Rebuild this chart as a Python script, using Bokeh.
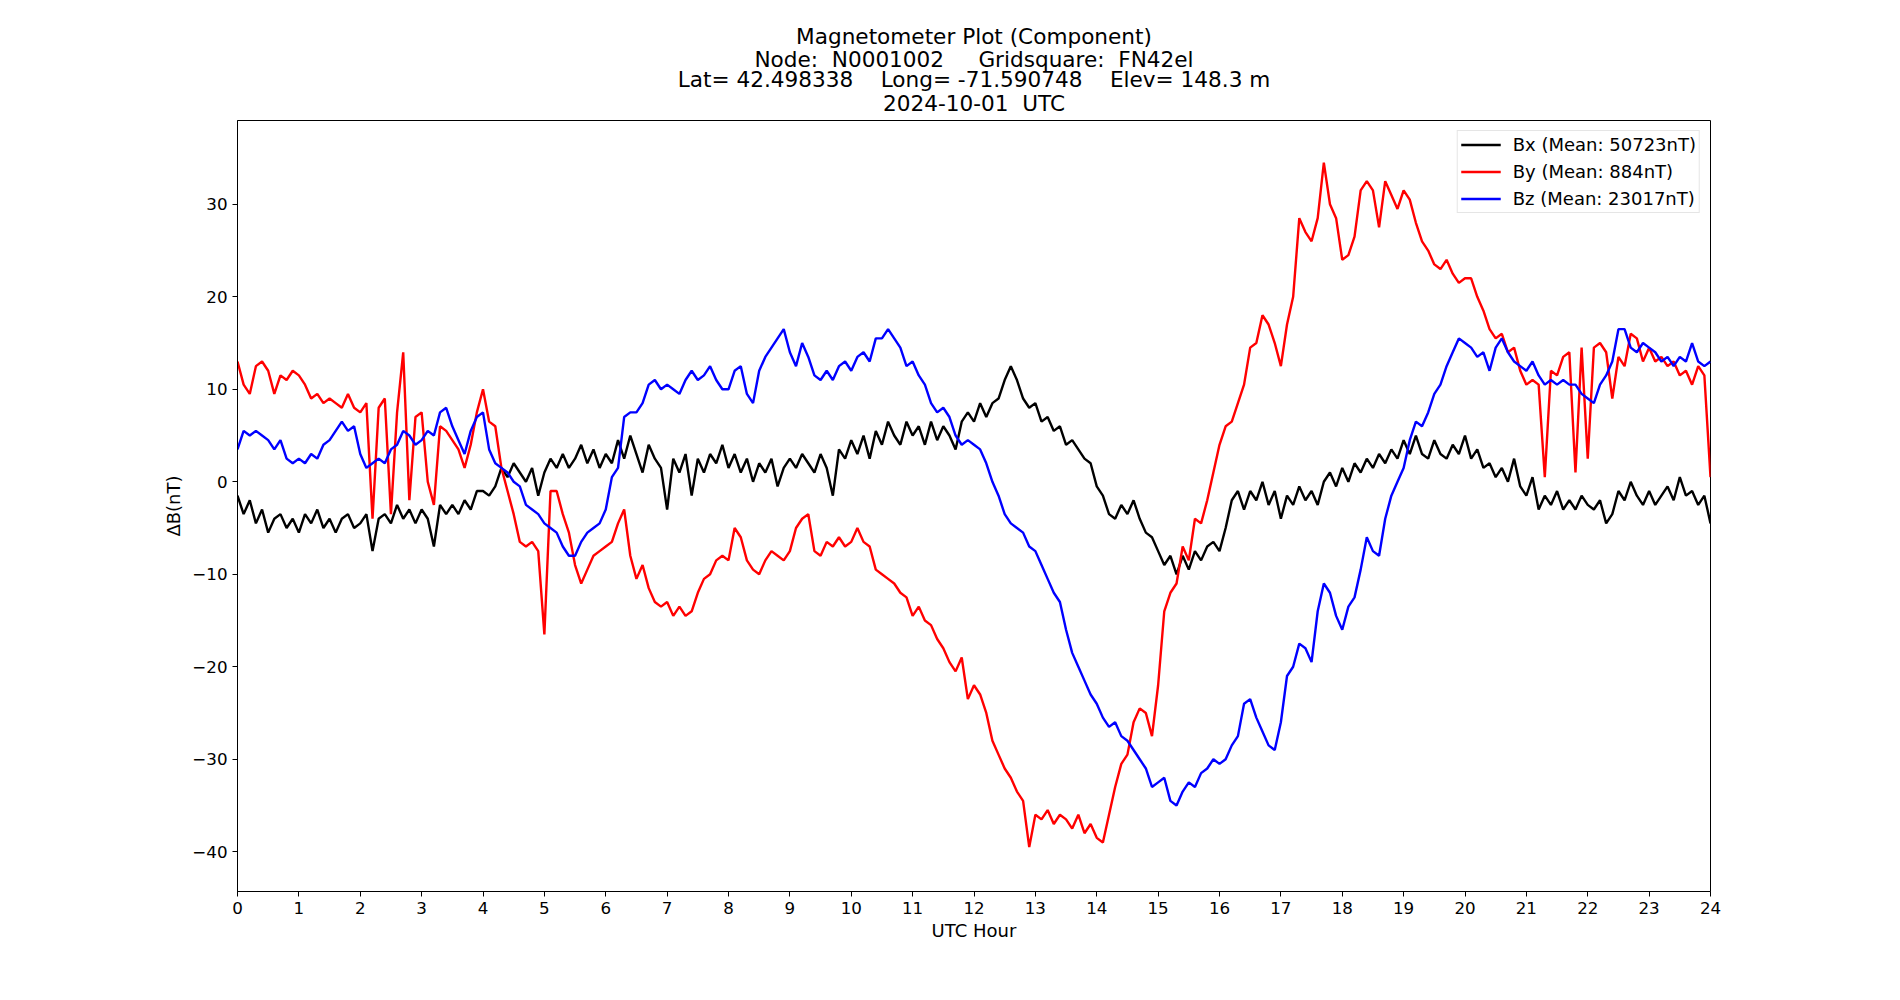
import numpy as np
from bokeh.plotting import figure
from bokeh.models import Legend, LegendItem, FixedTicker, Range1d, Title
from bokeh.embed import file_html
from bokeh.resources import INLINE

# Daily magnetometer component deviations, sampled every 0.1 UTC hour (nT)
SAMPLE_STEP_H = 0.1
BX = [
    -1.5, -3.5, -2.0, -4.5, -3.0, -5.5, -4.0, -3.5, -5.0, -4.0,
    -5.5, -3.5, -4.5, -3.0, -5.0, -4.0, -5.5, -4.0, -3.5, -5.0,
    -4.5, -3.5, -7.5, -4.0, -3.5, -4.5, -2.5, -4.0, -3.0, -4.5,
    -3.0, -4.0, -7.0, -2.5, -3.5, -2.5, -3.5, -2.0, -3.0, -1.0,
    -1.0, -1.5, -0.5, 1.5, 0.5, 2.0, 1.0, 0.0, 1.5, -1.5,
    1.0, 2.5, 1.5, 3.0, 1.5, 2.5, 4.0, 2.0, 3.5, 1.5,
    3.0, 2.0, 4.5, 2.5, 5.0, 3.0, 1.0, 4.0, 2.5, 1.5,
    -3.0, 2.5, 1.0, 3.0, -1.5, 2.5, 1.0, 3.0, 2.0, 4.0,
    1.5, 3.0, 1.0, 2.5, 0.0, 2.0, 1.0, 2.5, -0.5, 1.5,
    2.5, 1.5, 3.0, 2.0, 1.0, 3.0, 1.5, -1.5, 3.5, 2.5,
    4.5, 3.0, 5.0, 2.5, 5.5, 4.0, 6.5, 5.0, 4.0, 6.5,
    5.0, 6.0, 4.0, 6.5, 4.5, 6.0, 5.0, 3.5, 6.5, 7.5,
    6.5, 8.5, 7.0, 8.5, 9.0, 11.0, 12.5, 11.0, 9.0, 8.0,
    8.5, 6.5, 7.0, 5.5, 6.0, 4.0, 4.5, 3.5, 2.5, 2.0,
    -0.5, -1.5, -3.5, -4.0, -2.5, -3.5, -2.0, -4.0, -5.5, -6.0,
    -7.5, -9.0, -8.0, -10.0, -8.0, -9.5, -7.5, -8.5, -7.0, -6.5,
    -7.5, -5.0, -2.0, -1.0, -3.0, -1.0, -2.0, 0.0, -2.5, -1.0,
    -4.0, -1.5, -2.5, -0.5, -2.0, -1.0, -2.5, 0.0, 1.0, -0.5,
    1.5, 0.0, 2.0, 1.0, 2.5, 1.5, 3.0, 2.0, 3.5, 2.5,
    4.5, 3.0, 5.0, 3.0, 2.5, 4.5, 3.0, 2.5, 4.0, 3.0,
    5.0, 2.5, 3.5, 1.5, 2.0, 0.5, 1.5, 0.0, 2.5, -0.5,
    -1.5, 0.5, -3.0, -1.5, -2.5, -1.0, -3.0, -2.0, -3.0, -1.5,
    -2.5, -3.0, -2.0, -4.5, -3.5, -1.0, -2.0, 0.0, -1.5, -2.5,
    -1.0, -2.5, -1.5, -0.5, -2.0, 0.5, -1.5, -1.0, -2.5, -1.5,
    -4.5,
]
BY = [
    13.0, 10.5, 9.5, 12.5, 13.0, 12.0, 9.5, 11.5, 11.0, 12.0,
    11.5, 10.5, 9.0, 9.5, 8.5, 9.0, 8.5, 8.0, 9.5, 8.0,
    7.5, 8.5, -4.0, 8.0, 9.0, -3.5, 7.5, 14.0, -2.0, 7.0,
    7.5, 0.0, -2.5, 6.0, 5.5, 4.5, 3.5, 1.5, 4.0, 7.5,
    10.0, 6.5, 6.0, 1.5, -1.0, -3.5, -6.5, -7.0, -6.5, -7.5,
    -16.5, -1.0, -1.0, -3.5, -5.5, -9.0, -11.0, -9.5, -8.0, -7.5,
    -7.0, -6.5, -4.5, -3.0, -8.0, -10.5, -9.0, -11.5, -13.0, -13.5,
    -13.0, -14.5, -13.5, -14.5, -14.0, -12.0, -10.5, -10.0, -8.5, -8.0,
    -8.5, -5.0, -6.0, -8.5, -9.5, -10.0, -8.5, -7.5, -8.0, -8.5,
    -7.5, -5.0, -4.0, -3.5, -7.5, -8.0, -6.5, -7.0, -6.0, -7.0,
    -6.5, -5.0, -6.5, -7.0, -9.5, -10.0, -10.5, -11.0, -12.0, -12.5,
    -14.5, -13.5, -15.0, -15.5, -17.0, -18.0, -19.5, -20.5, -19.0, -23.5,
    -22.0, -23.0, -25.0, -28.0, -29.5, -31.0, -32.0, -33.5, -34.5, -39.5,
    -36.0, -36.5, -35.5, -37.0, -36.0, -36.5, -37.5, -36.0, -38.0, -37.0,
    -38.5, -39.0, -36.0, -33.0, -30.5, -29.5, -26.0, -24.5, -25.0, -27.5,
    -22.0, -14.0, -12.0, -11.0, -7.0, -8.5, -4.0, -4.5, -2.0, 1.0,
    4.0, 6.0, 6.5, 8.5, 10.5, 14.5, 15.0, 18.0, 17.0, 15.0,
    12.5, 17.0, 20.0, 28.5, 27.0, 26.0, 28.5, 34.5, 30.0, 28.5,
    24.0, 24.5, 26.5, 31.5, 32.5, 31.5, 27.5, 32.5, 31.0, 29.5,
    31.5, 30.5, 28.0, 26.0, 25.0, 23.5, 23.0, 24.0, 22.5, 21.5,
    22.0, 22.0, 20.0, 18.5, 16.5, 15.5, 16.0, 14.0, 14.5, 12.0,
    10.5, 11.0, 10.5, 0.5, 12.0, 11.5, 13.5, 14.0, 1.0, 14.5,
    2.5, 14.5, 15.0, 14.0, 9.0, 13.5, 12.5, 16.0, 15.5, 13.0,
    14.5, 13.0, 13.5, 12.5, 13.0, 11.5, 12.0, 10.5, 12.5, 11.5,
    0.5,
]
BZ = [
    3.5, 5.5, 5.0, 5.5, 5.0, 4.5, 3.5, 4.5, 2.5, 2.0,
    2.5, 2.0, 3.0, 2.5, 4.0, 4.5, 5.5, 6.5, 5.5, 6.0,
    3.0, 1.5, 2.0, 2.5, 2.0, 3.5, 4.0, 5.5, 5.0, 4.0,
    4.5, 5.5, 5.0, 7.5, 8.0, 6.0, 4.5, 3.0, 5.5, 7.0,
    7.5, 3.5, 2.0, 1.5, 1.0, 0.0, -0.5, -2.5, -3.0, -3.5,
    -4.5, -5.0, -5.5, -7.0, -8.0, -8.0, -6.5, -5.5, -5.0, -4.5,
    -3.0, 0.5, 1.5, 7.0, 7.5, 7.5, 8.5, 10.5, 11.0, 10.0,
    10.5, 10.0, 9.5, 11.0, 12.0, 11.0, 11.5, 12.5, 11.0, 10.0,
    10.0, 12.0, 12.5, 9.5, 8.5, 12.0, 13.5, 14.5, 15.5, 16.5,
    14.0, 12.5, 15.0, 13.5, 11.5, 11.0, 12.0, 11.0, 12.5, 13.0,
    12.0, 13.5, 14.0, 13.0, 15.5, 15.5, 16.5, 15.5, 14.5, 12.5,
    13.0, 11.5, 10.5, 8.5, 7.5, 8.0, 7.0, 5.0, 4.0, 4.5,
    4.0, 3.5, 2.0, 0.0, -1.5, -3.5, -4.5, -5.0, -5.5, -7.0,
    -7.5, -9.0, -10.5, -12.0, -13.0, -16.0, -18.5, -20.0, -21.5, -23.0,
    -24.0, -25.5, -26.5, -26.0, -27.5, -28.0, -29.0, -30.0, -31.0, -33.0,
    -32.5, -32.0, -34.5, -35.0, -33.5, -32.5, -33.0, -31.5, -31.0, -30.0,
    -30.5, -30.0, -28.5, -27.5, -24.0, -23.5, -25.5, -27.0, -28.5, -29.0,
    -26.0, -21.0, -20.0, -17.5, -18.0, -19.5, -14.0, -11.0, -12.0, -14.5,
    -16.0, -13.5, -12.5, -9.5, -6.0, -7.5, -8.0, -4.0, -1.5, 0.0,
    1.5, 4.5, 6.5, 6.0, 7.5, 9.5, 10.5, 12.5, 14.0, 15.5,
    15.0, 14.5, 13.5, 14.0, 12.0, 14.5, 15.5, 14.0, 13.0, 12.5,
    12.0, 13.0, 11.5, 10.5, 11.0, 10.5, 11.0, 10.5, 10.5, 9.5,
    9.0, 8.5, 10.5, 11.5, 13.0, 16.5, 16.5, 14.5, 14.0, 15.0,
    14.5, 14.0, 13.0, 13.5, 12.5, 13.5, 13.0, 15.0, 13.0, 12.5,
    13.0,
]
HOURS = np.round(np.arange(len(BX)) * SAMPLE_STEP_H, 1)

SERIES_NAMES = ["Bx (Mean: 50723nT)", "By (Mean: 884nT)", "Bz (Mean: 23017nT)"]
SERIES_COLORS = ["black", "red", "blue"]

TITLE_LINES = [
    "Magnetometer Plot (Component)",
    "Node:  N0001002     Gridsquare:  FN42el",
    "Lat= 42.498338    Long= -71.590748    Elev= 148.3 m",
    "2024-10-01  UTC",
]
# spacing of each heading panel (top line first)
TITLE_STANDOFFS = [-4, -4, -10, 5]
X_TICKS = list(range(0, 25))
Y_TICKS = [-40, -30, -20, -10, 0, 10, 20, 30]

FONT = "DejaVu Sans"
TICK_SIZE = "16.7px"
LABEL_SIZE = "18px"
TITLE_SIZE = "21.6px"
Y_LO, Y_HI = -44.3, 39.06

p = figure(width=1900, height=1000, output_backend="svg", toolbar_location=None,
           x_range=Range1d(0, 24), y_range=Range1d(Y_LO, Y_HI), title=None)
p.min_border_left = 237
p.min_border_right = 190
p.min_border_top = 120
p.min_border_bottom = 109
p.background_fill_color = "white"
p.border_fill_color = "white"
p.outline_line_color = "black"
p.outline_line_width = 1
p.grid.visible = False

renderers = []
for vals, color in zip([BX, BY, BZ], SERIES_COLORS):
    r = p.line(HOURS, vals, line_color=color, line_width=2.4)
    renderers.append(r)

for ax in (p.xaxis[0], p.yaxis[0]):
    ax.major_label_text_font = FONT
    ax.major_label_text_font_size = TICK_SIZE
    ax.major_label_text_color = "black"
    ax.axis_label_text_font = FONT
    ax.axis_label_text_font_size = LABEL_SIZE
    ax.axis_label_text_font_style = "normal"
    ax.axis_label_text_color = "black"
    ax.major_tick_in = 0
    ax.major_tick_out = 5
    ax.minor_tick_in = 0
    ax.minor_tick_out = 0
    ax.axis_line_color = "black"
    ax.major_tick_line_color = "black"

p.xaxis.ticker = FixedTicker(ticks=X_TICKS)
p.yaxis.ticker = FixedTicker(ticks=Y_TICKS)
p.yaxis.major_label_overrides = {t: ("\u2212" + str(abs(t)) if t < 0 else str(t)) for t in Y_TICKS}
p.xaxis.axis_label = "UTC Hour"
p.yaxis.axis_label = "\u0394B(nT)"
p.xaxis.major_label_standoff = 5
p.xaxis.axis_label_standoff = 3
p.yaxis.major_label_standoff = 5
p.yaxis.axis_label_standoff = 5

# stacked centred heading lines; the panel nearest the frame is added first,
# runs of spaces kept with no-break spaces
for line, gap in reversed(list(zip(TITLE_LINES, TITLE_STANDOFFS))):
    p.add_layout(Title(text=line.replace(" ", "\u00a0"), align="center",
                       vertical_align="top", text_font=FONT,
                       text_font_size=TITLE_SIZE, text_font_style="normal",
                       text_color="black", standoff=gap, offset=0), "above")

legend = Legend(items=[LegendItem(label=n, renderers=[r]) for n, r in zip(SERIES_NAMES, renderers)],
                location="top_right")
legend.label_text_font = FONT
legend.label_text_font_size = LABEL_SIZE
legend.label_text_color = "black"
legend.glyph_width = 40
legend.glyph_height = 21
legend.label_height = 21
legend.label_standoff = 12
legend.spacing = 6
legend.padding = 3
legend.margin = 10
legend.border_line_color = "#cccccc"
legend.border_line_width = 1
legend.background_fill_alpha = 0.8
p.add_layout(legend)

open("out.html", "w").write(file_html(p, INLINE))
